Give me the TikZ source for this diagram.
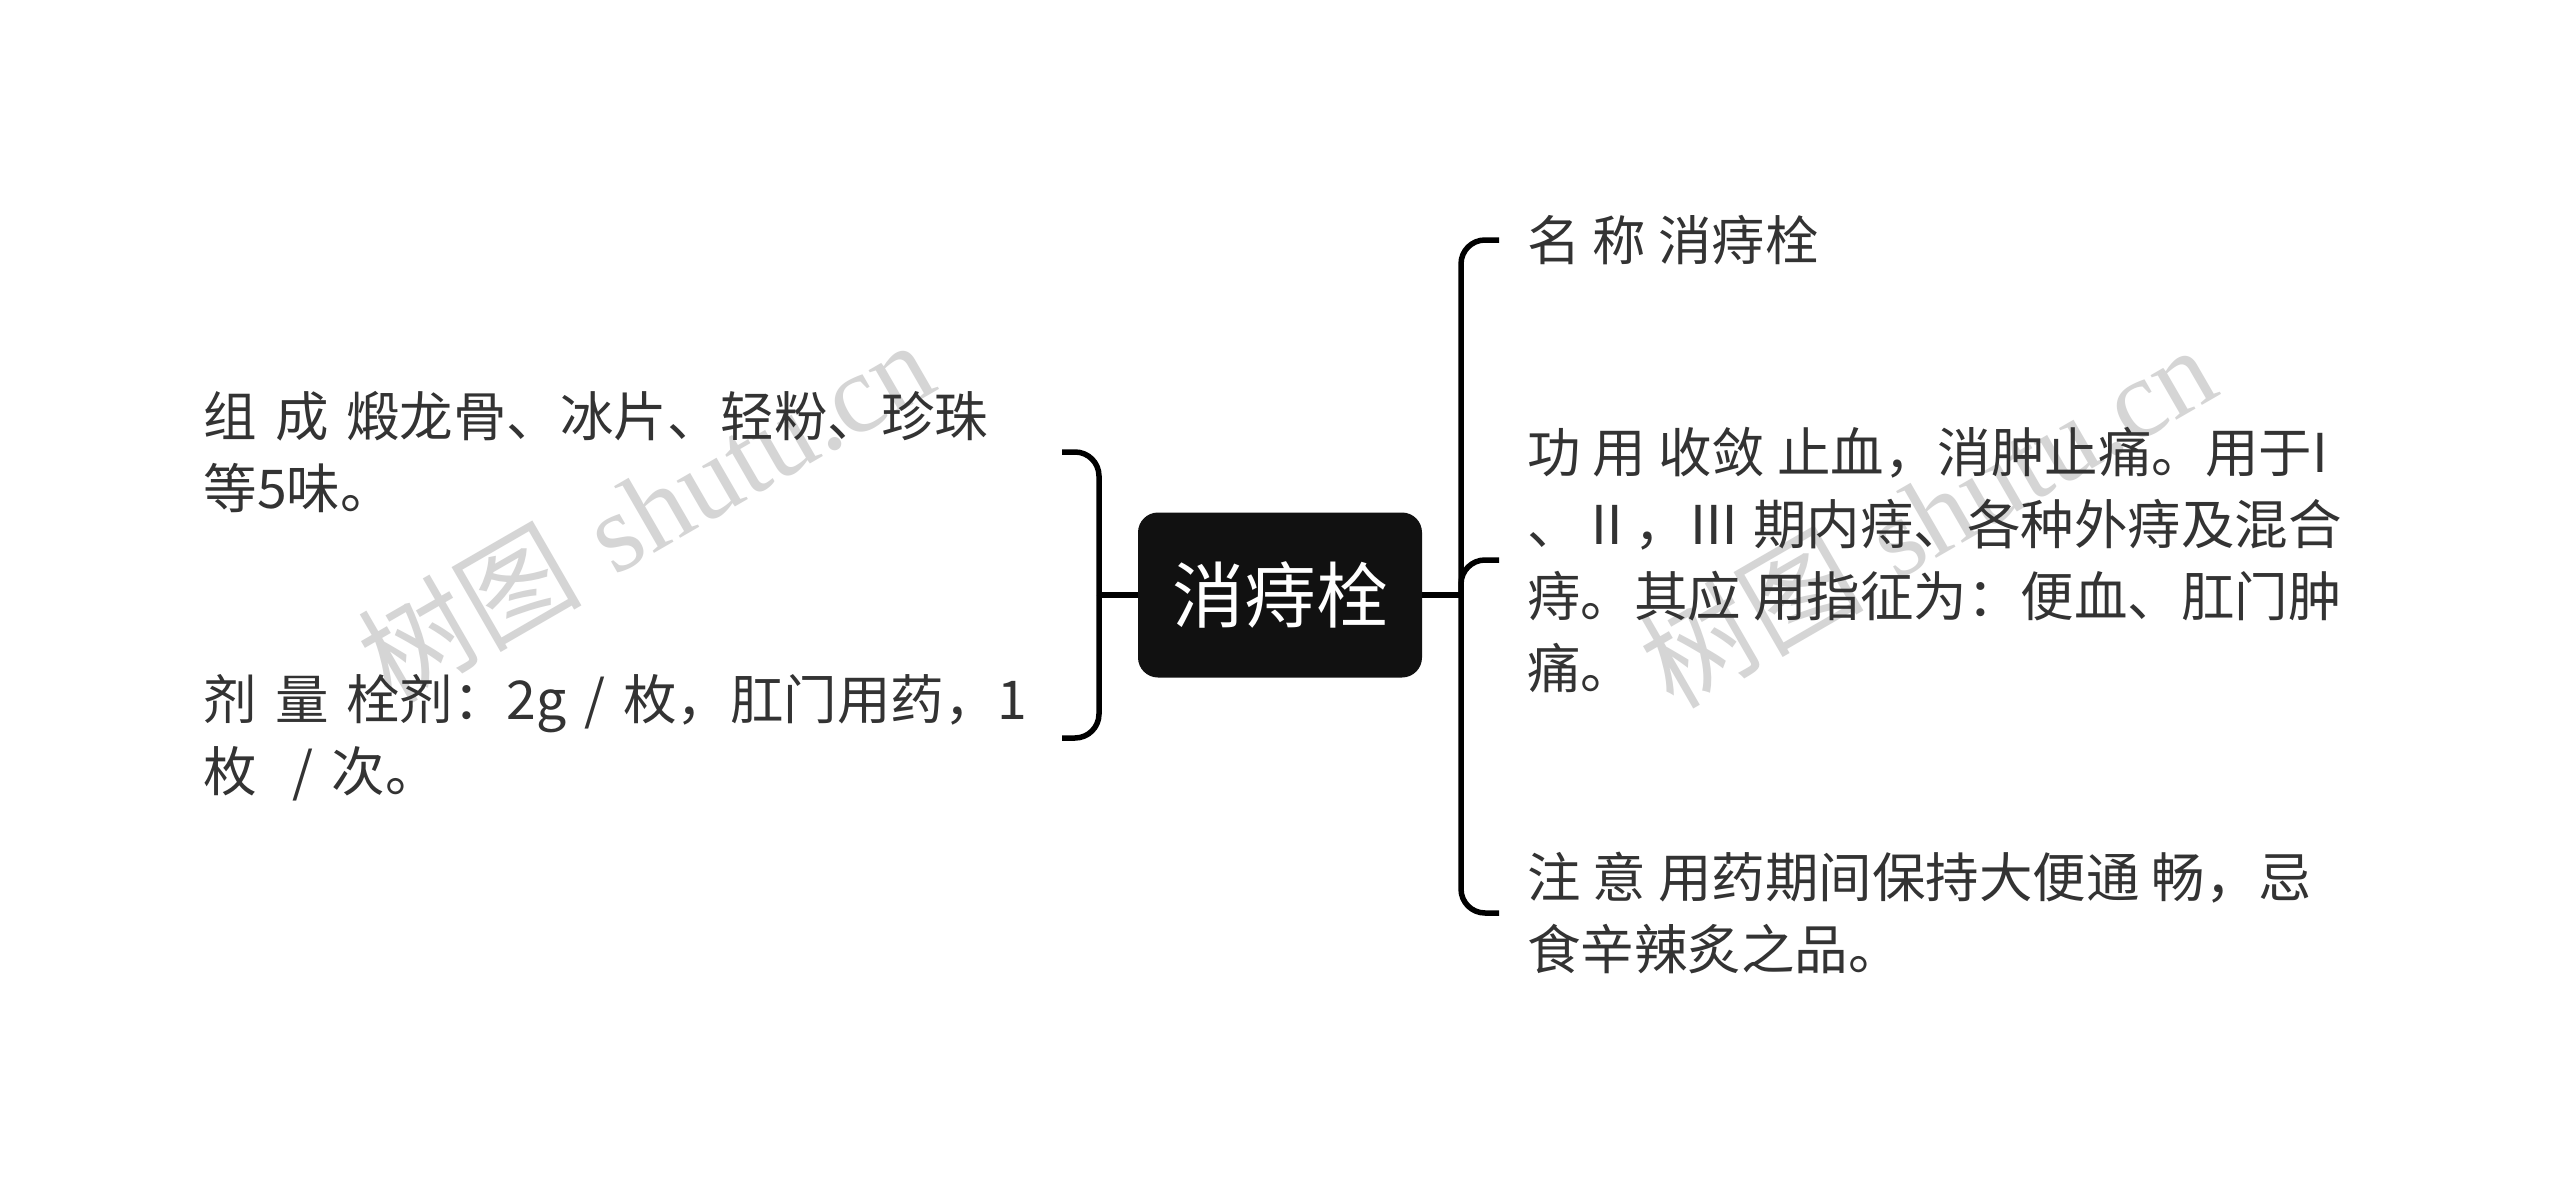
\documentclass[tikz,border=0pt]{standalone}
\usepackage{fontspec}
\newfontfamily\cjk{Noto Sans CJK SC}
\newfontfamily\wmser{Liberation Serif}
\definecolor{txt}{HTML}{333333}
\definecolor{wm}{HTML}{D5D5D5}
\definecolor{boxfill}{HTML}{111111}
\begin{document}
\begin{tikzpicture}[x=1pt,y=-1pt,
  conn/.style={draw=black, line width=5.5pt, rounded corners=24pt},
  rootbox/.style={fill=boxfill, rounded corners=20pt, minimum width=284pt, minimum height=165pt, text=white, font=\cjk\fontsize{72}{80}\selectfont, inner sep=0pt},
  rleaf/.style={anchor=west, align=left, inner xsep=28pt, inner ysep=0pt, text=txt, font=\cjk\fontsize{53.5}{72}\selectfont},
  lleaf/.style={anchor=east, align=left, text width=830pt, inner xsep=28pt, inner ysep=0pt, text=txt, font=\cjk\fontsize{53.5}{72}\selectfont},
  wmark/.style={text=wm, rotate=30, inner sep=0pt, font=\fontsize{112}{120}\selectfont}
]
\fill[white] (0,0) rectangle (2560,1191);
\useasboundingbox (0,0) rectangle (2560,1191);
% watermarks
\node[wmark] (wm1) at (645,510) {{\cjk 树图} {\wmser shutu.cn}};
\node[wmark] (wm2) at (1927,515) {{\cjk 树图} {\wmser shutu.cn}};
% root
\node[rootbox] (root) at (1280,595) {消痔栓};
\coordinate (lj) at (1099,595);
\coordinate (rj) at (1461,595);
% left children
\node[lleaf] (l1) at (1062,452) {组 成 煅龙骨、冰片、轻粉、珍珠\\等5味。};
\node[lleaf] (l2) at (1062,738) {剂 量 栓剂：2g / 枚，肛门用药，1\\枚\ \ / 次。};
% right children
\node[rleaf] (r1) at (1499,240) {名 称 消痔栓};
\node[rleaf] (r2) at (1499,560) {功 用 收敛 止血，消肿止痛。用于I\\、Ⅱ，Ⅲ 期内痔、各种外痔及混合\\痔。其应 用指征为：便血、肛门肿\\痛。};
\node[rleaf] (r3) at (1499,913) {注 意 用药期间保持大便通 畅，忌\\食辛辣炙之品。};
% connectors
\draw[conn] (root.west) -- (lj);
\draw[conn] (lj) |- (l1.east);
\draw[conn] (lj) |- (l2.east);
\draw[conn] (root.east) -- (rj);
\draw[conn] (rj) |- (r1.west);
\draw[conn] (rj) |- (r2.west);
\draw[conn] (rj) |- (r3.west);
\end{tikzpicture}
\end{document}
